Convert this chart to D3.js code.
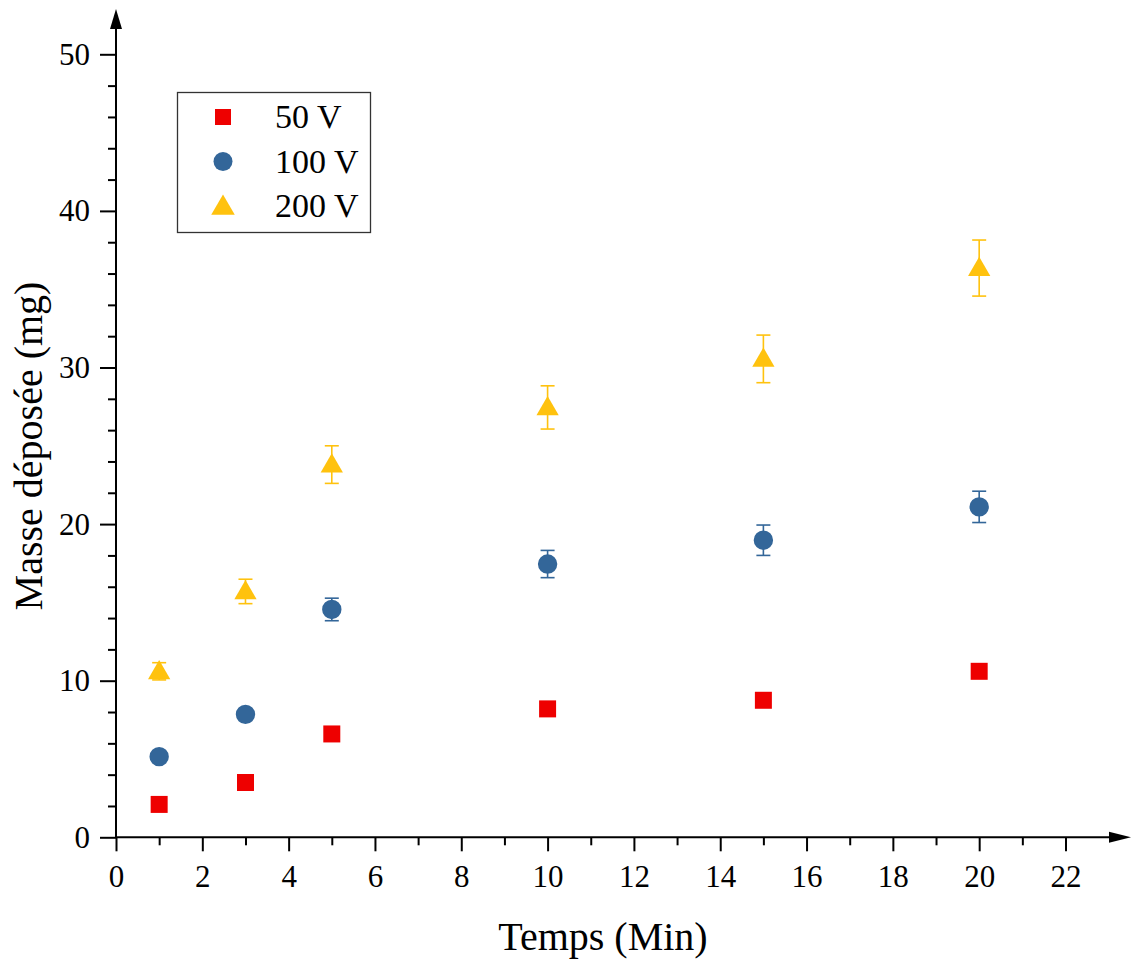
<!DOCTYPE html>
<html>
<head>
<meta charset="utf-8">
<script src="https://cdn.jsdelivr.net/npm/d3@7"></script>
<style>
  html, body { margin: 0; padding: 0; background: #fff; }
  svg { display: block; }
  text { font-family: 'Liberation Serif', 'Times New Roman', serif; fill: #000; }
</style>
</head>
<body>
<svg id="chart" width="1131" height="962"></svg>
<script>
// ---- data ----
const times = [1, 3, 5, 10, 15, 20];
const series = ["50 V", "100 V", "200 V"];
const mass50 = [2.1, 3.5, 6.6, 8.2, 8.75, 10.6];
const err50 = [0, 0, 0, 0, 0, 0];
const mass100 = [5.15, 7.85, 14.55, 17.45, 18.97, 21.1];
const err100 = [0, 0, 0.72, 0.87, 0.97, 1.0];
const mass200 = [10.6, 15.7, 23.8, 27.45, 30.55, 36.35];
const err200 = [0.55, 0.78, 1.2, 1.38, 1.52, 1.79];
const xMajorTicks = [0, 2, 4, 6, 8, 10, 12, 14, 16, 18, 20, 22];
const xMinorTicks = [1, 3, 5, 7, 9, 11, 13, 15, 17, 19, 21];
const yMajorTicks = [0, 10, 20, 30, 40, 50];
const yMinorTicks = [2, 4, 6, 8, 12, 14, 16, 18, 22, 24, 26, 28, 32, 34, 36, 38, 42, 44, 46, 48];
const xTitle = "Temps (Min)";
const yTitle = "Masse déposée (mg)";

const colors = { "50 V": "#ee0000", "100 V": "#336699", "200 V": "#ffc20e" };
const shapes = { "50 V": d3.symbolSquare, "100 V": d3.symbolCircle, "200 V": d3.symbolTriangle };
const sizes = { "50 V": 17 * 17, "100 V": Math.PI * 9.7 * 9.7, "200 V": 215 };

const data = [
  { name: "50 V", ys: mass50, es: err50 },
  { name: "100 V", ys: mass100, es: err100 },
  { name: "200 V", ys: mass200, es: err200 }
];

const svg = d3.select("#chart");
const x = d3.scaleLinear().domain([0, 22]).range([116, 1065.5]);
const y = d3.scaleLinear().domain([0, 50]).range([837.3, 54.3]);

const fontTick = 31;

// x axis
const gx = svg.append("g").attr("transform", `translate(0,${y(0)})`);
gx.call(d3.axisBottom(x).tickValues(xMajorTicks).tickSize(14).tickPadding(14).tickFormat(d3.format("d")));
gx.select(".domain").remove();
gx.selectAll(".tick line").attr("stroke", "#000").attr("stroke-width", 2);
gx.selectAll(".tick text").style("font-size", fontTick + "px").style("font-family", "'Liberation Serif', serif");
const gxm = svg.append("g").attr("transform", `translate(0,${y(0)})`);
gxm.call(d3.axisBottom(x).tickValues(xMinorTicks).tickSize(8).tickFormat(""));
gxm.select(".domain").remove();
gxm.selectAll(".tick line").attr("stroke", "#000").attr("stroke-width", 2);

// y axis
const gy = svg.append("g").attr("transform", `translate(${x(0)},0)`);
gy.call(d3.axisLeft(y).tickValues(yMajorTicks).tickSize(16).tickPadding(10).tickFormat(d3.format("d")));
gy.select(".domain").remove();
gy.selectAll(".tick line").attr("stroke", "#000").attr("stroke-width", 2);
gy.selectAll(".tick text").style("font-size", fontTick + "px").style("font-family", "'Liberation Serif', serif");
const gym = svg.append("g").attr("transform", `translate(${x(0)},0)`);
gym.call(d3.axisLeft(y).tickValues(yMinorTicks).tickSize(8).tickFormat(""));
gym.select(".domain").remove();
gym.selectAll(".tick line").attr("stroke", "#000").attr("stroke-width", 2);

// axis lines with arrows
const x0 = x(0), y0 = y(0);
svg.append("line").attr("x1", x0).attr("x2", 1112).attr("y1", y0).attr("y2", y0)
  .attr("stroke", "#000").attr("stroke-width", 2);
svg.append("line").attr("x1", x0).attr("x2", x0).attr("y1", y0).attr("y2", 26)
  .attr("stroke", "#000").attr("stroke-width", 2);
svg.append("path").attr("d", `M${x0 - 6},29 L${x0},9 L${x0 + 6},29 Z`).attr("fill", "#000");
svg.append("path").attr("d", `M1109,${y0 - 5.5} L1131,${y0} L1109,${y0 + 5.5} Z`).attr("fill", "#000");

// error bars
const capW = 7;
data.forEach(s => {
  const g = svg.append("g");
  s.ys.forEach((v, i) => {
    const e = s.es[i];
    if (!e) return;
    const cx = x(times[i]);
    const lo = y(v - e), hi = y(v + e);
    g.append("line").attr("x1", cx).attr("x2", cx).attr("y1", lo).attr("y2", hi)
      .attr("stroke", colors[s.name]).attr("stroke-width", 1.6);
    g.append("line").attr("x1", cx - capW).attr("x2", cx + capW).attr("y1", lo).attr("y2", lo)
      .attr("stroke", colors[s.name]).attr("stroke-width", 1.6);
    g.append("line").attr("x1", cx - capW).attr("x2", cx + capW).attr("y1", hi).attr("y2", hi)
      .attr("stroke", colors[s.name]).attr("stroke-width", 1.6);
  });
});

// points
data.forEach(s => {
  const sym = d3.symbol().type(shapes[s.name]).size(sizes[s.name]);
  svg.append("g").selectAll("path").data(s.ys).join("path")
    .attr("d", sym)
    .attr("transform", (v, i) => `translate(${x(times[i])},${y(v) + (s.name === "200 V" ? 1.5 : 0)})`)
    .attr("fill", colors[s.name]);
});

// legend
const lg = svg.append("g");
lg.append("rect").attr("x", 177.5).attr("y", 92.5).attr("width", 193).attr("height", 140)
  .attr("fill", "#fff").attr("stroke", "#333").attr("stroke-width", 1.3);
series.forEach((name, i) => {
  const cy = 117 + i * 44.5;
  const sz = name === "50 V" ? 16 * 16 : name === "100 V" ? Math.PI * 9.5 * 9.5 : 240;
  lg.append("path").attr("d", d3.symbol().type(shapes[name]).size(sz)())
    .attr("transform", `translate(223,${cy + (name === "200 V" ? 2 : 0)})`)
    .attr("fill", colors[name]);
  lg.append("text").attr("x", 275).attr("y", cy + 11).style("font-size", "34px").text(name);
});

// titles
svg.append("text").attr("x", 603).attr("y", 950).attr("text-anchor", "middle")
  .style("font-size", "40px").text(xTitle);
svg.append("text").attr("transform", `translate(42,446) rotate(-90)`).attr("text-anchor", "middle")
  .style("font-size", "40px").text(yTitle);
</script>
</body>
</html>
